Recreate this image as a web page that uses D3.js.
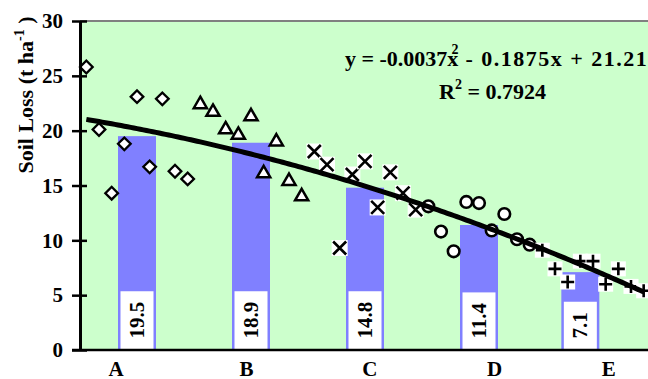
<!DOCTYPE html>
<html><head><meta charset="utf-8">
<script src="https://cdn.jsdelivr.net/npm/d3@7/dist/d3.min.js"></script>
<style>
body{margin:0;background:#fff}
text{font-family:"Liberation Serif","Times New Roman",serif;font-weight:bold;fill:#000}
</style>
</head><body>
<svg id="c" width="648" height="379"></svg>
<script>
// ---- data ----
const groups = ["A", "B", "C", "D", "E"];
const groupLabelX = [3.3, 13.6, 23.35, 33.2, 42.2];
const barX = [5, 14, 23, 32, 40];
const barMeans = [19.5, 18.9, 14.8, 11.4, 7.1];
const barLabels = ["19.5", "18.9", "14.8", "11.4", "7.1"];

const xA = [1, 2, 3, 4, 5, 6, 7, 8, 9];
const yA = [25.8, 20.1, 14.3, 18.8, 23.1, 16.7, 22.9, 16.3, 15.6];
const xB = [10, 11, 12, 13, 14, 15, 16, 17, 18];
const yB = [22.4, 21.7, 20.1, 19.6, 21.3, 16.1, 19.0, 15.4, 14.0];
const xC = [19, 20, 21, 22, 23, 24, 25, 26, 27];
const yC = [18.1, 16.9, 9.3, 16.0, 17.2, 13.0, 16.2, 14.3, 12.8];
const xD = [28, 29, 30, 31, 32, 33, 34, 35, 36];
const yD = [13.1, 10.8, 9.0, 13.5, 13.4, 10.9, 12.4, 10.1, 9.6];
const xE = [37, 38, 39, 40, 41, 42, 43, 44, 45];
const yE = [9.1, 7.4, 6.2, 8.1, 8.1, 6.0, 7.4, 5.8, 5.4];

const yTicks = [0, 5, 10, 15, 20, 25, 30];
const trendCoef = [-0.0037, -0.1875, 21.219]; // a x^2 + b x + c
const trendRange = [1, 45];
const r2 = "0.7924";

// ---- layout ----
const svg = d3.select("#c");
const L = 80, R = 650, T = 21, B = 350;
const x = d3.scaleLinear().domain([0.5, 45.5]).range([L, R]);
const y = d3.scaleLinear().domain([0, 30]).range([B, T]);

svg.append("rect").attr("x", L).attr("y", T).attr("width", R - L).attr("height", B - T).attr("fill", "#CCFFCC");
svg.append("line").attr("x1", L).attr("x2", R).attr("y1", T).attr("y2", T).attr("stroke", "#808080").attr("stroke-width", 2);

// bars
const barHalf = 1.5;
svg.append("g").selectAll("rect").data(barMeans).join("rect")
  .attr("x", (d, i) => x(barX[i] - barHalf))
  .attr("width", (d, i) => x(barX[i] + barHalf) - x(barX[i] - barHalf))
  .attr("y", d => y(d))
  .attr("height", d => y(0) - y(d))
  .attr("fill", "#8080FF");

// bar labels
const lab = svg.append("g");
barLabels.forEach((t, i) => {
  const g = lab.append("g");
  const rect = g.append("rect").attr("fill", "#fff");
  const cx = x(barX[i]);
  const txt = g.append("text").text(t)
    .attr("font-size", 21)
    .attr("text-anchor", "middle");
  const len = txt.node().getComputedTextLength();
  const h = len + 21, w = 33;
  const cy = B - 1 - h / 2;
  rect.attr("x", cx - w / 2).attr("y", B - 1 - h).attr("width", w).attr("height", h);
  txt.attr("transform", `translate(${cx + 7},${cy}) rotate(-90)`);
});

// markers
const mk = svg.append("g");
const ptsA = xA.map((v, i) => [v, yA[i]]);
const ptsB = xB.map((v, i) => [v, yB[i]]);
const ptsC = xC.map((v, i) => [v, yC[i]]);
const ptsD = xD.map((v, i) => [v, yD[i]]);
const ptsE = xE.map((v, i) => [v, yE[i]]);

mk.selectAll(".dia").data(ptsA).join("path")
  .attr("d", d3.symbol(d3.symbolSquare, 80)())
  .attr("transform", d => `translate(${x(d[0])},${y(d[1])}) rotate(45)`)
  .attr("fill", "#fff").attr("stroke", "#000").attr("stroke-width", 2.3);

mk.selectAll(".tri").data(ptsB).join("path")
  .attr("d", d3.symbol(d3.symbolTriangle, 75)())
  .attr("transform", d => `translate(${x(d[0])},${y(d[1])})`)
  .attr("fill", "#fff").attr("stroke", "#000").attr("stroke-width", 2.5).attr("stroke-linejoin", "miter");

ptsC.forEach(d => {
  const g = mk.append("g").attr("transform", `translate(${x(d[0])},${y(d[1])})`);
  g.append("rect").attr("x", -8).attr("y", -8).attr("width", 16).attr("height", 16).attr("fill", "#fff");
  g.append("path").attr("d", "M-6.5,-6.5L6.5,6.5M-6.5,6.5L6.5,-6.5").attr("stroke", "#000").attr("stroke-width", 2.6);
});

mk.selectAll(".cir").data(ptsD).join("circle")
  .attr("cx", d => x(d[0])).attr("cy", d => y(d[1])).attr("r", 5.8)
  .attr("fill", "#fff").attr("stroke", "#000").attr("stroke-width", 2.6);

ptsE.forEach(d => {
  const g = mk.append("g").attr("transform", `translate(${x(d[0])},${y(d[1])})`);
  g.append("rect").attr("x", -7.5).attr("y", -7.5).attr("width", 15).attr("height", 15).attr("fill", "#fff");
  g.append("path").attr("d", "M-6.5,0L6.5,0M0,-6.5L0,6.5").attr("stroke", "#000").attr("stroke-width", 2.6);
});

// trend line
const trendPts = [];
for (let t = trendRange[0]; t <= trendRange[1] + 1e-9; t += 0.25) {
  trendPts.push([t, trendCoef[0] * t * t + trendCoef[1] * t + trendCoef[2]]);
}
svg.append("path").datum(trendPts)
  .attr("d", d3.line().x(d => x(d[0])).y(d => y(d[1])))
  .attr("fill", "none").attr("stroke", "#000").attr("stroke-width", 5);

// y axis
const ya = svg.append("g").attr("transform", `translate(${L},0)`)
  .call(d3.axisLeft(y).tickValues(yTicks).tickSize(8).tickSizeOuter(0).tickPadding(9));
ya.select(".domain").attr("stroke", "#000").attr("stroke-width", 3);
ya.selectAll(".tick line").attr("x2", -8).attr("x1", 7).attr("stroke", "#000").attr("stroke-width", 2.5);
ya.selectAll(".tick text").attr("font-size", 21).attr("font-family", null).attr("dy", "0.32em");

// x axis
const xa = svg.append("g").attr("transform", `translate(0,${B})`)
  .call(d3.axisBottom(x).tickValues(groupLabelX).tickFormat((d, i) => groups[i]).tickSize(0).tickSizeOuter(0));
xa.select(".domain").remove();
xa.append("line").attr("x1", L - 8).attr("x2", R).attr("y1", 0).attr("y2", 0).attr("stroke", "#000").attr("stroke-width", 2.5);
xa.selectAll(".tick text").attr("font-size", 21).attr("font-family", null).attr("dy", null).attr("y", 26);

// y title
const yt = svg.append("text").attr("transform", "translate(33,95) rotate(-90)")
  .attr("text-anchor", "middle").attr("font-size", 22);
yt.append("tspan").text("Soil Loss (t ha");
yt.append("tspan").text("-1").attr("font-size", 14).attr("dy", -9);
yt.append("tspan").text(" )").attr("dy", 9);

// equation
const eq = svg.append("text").attr("x", 345).attr("y", 66).attr("font-size", 22);
eq.append("tspan").text(`y = ${trendCoef[0]}x`);
eq.append("tspan").text("2").attr("font-size", 14).attr("dx", -7).attr("dy", -12);
eq.append("tspan").text(` - ${Math.abs(trendCoef[1])}x + ${trendCoef[2]}`).attr("dy", 12).attr("letter-spacing", 1.5);

const r2t = svg.append("text").attr("x", 439).attr("y", 99).attr("font-size", 22);
r2t.append("tspan").text("R");
r2t.append("tspan").text("2").attr("font-size", 14).attr("dy", -10);
r2t.append("tspan").text(` = ${r2}`).attr("dy", 10);
</script>
</body></html>
